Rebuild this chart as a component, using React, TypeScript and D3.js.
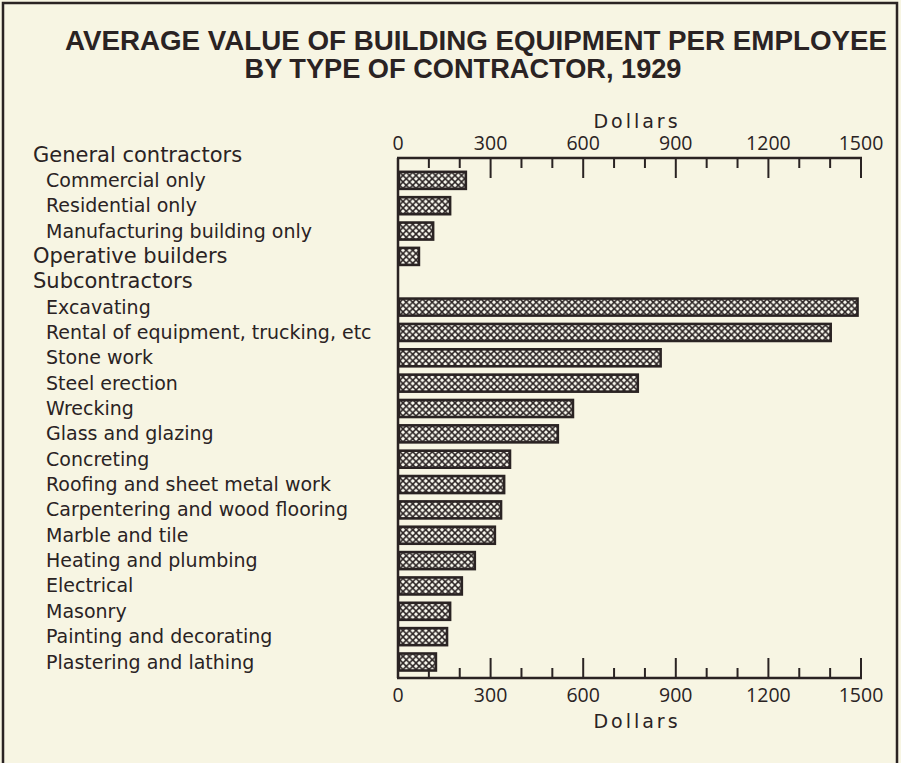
import React from "react";
import * as d3 from "d3";

const categories: string[] = [
  "General contractors",
  "Commercial only",
  "Residential only",
  "Manufacturing building only",
  "Operative builders",
  "Subcontractors",
  "Excavating",
  "Rental of equipment, trucking, etc",
  "Stone work",
  "Steel erection",
  "Wrecking",
  "Glass and glazing",
  "Concreting",
  "Roofing and sheet metal work",
  "Carpentering and wood flooring",
  "Marble and tile",
  "Heating and plumbing",
  "Electrical",
  "Masonry",
  "Painting and decorating",
  "Plastering and lathing",
];

// null = heading row without a bar
const values: (number | null)[] = [
  null, 223, 172, 117, 71, null, 1492, 1405, 854, 780, 570, 521, 366, 347, 337, 317, 252, 210, 172, 162, 126,
];

// 0 = heading, 1 = indented item
const levels: number[] = [0, 1, 1, 1, 0, 0, 1, 1, 1, 1, 1, 1, 1, 1, 1, 1, 1, 1, 1, 1, 1];

const majorTicks: number[] = [0, 300, 600, 900, 1200, 1500];
const titleLines: string[] = ["AVERAGE VALUE OF BUILDING EQUIPMENT PER EMPLOYEE", "BY TYPE OF CONTRACTOR, 1929"];
const axisTitle = "Dollars";

const W = 901;
const H = 763;
const INK = "#2a2323";
const BG = "#f7f5e3";
const FONT = "'DejaVu Sans', 'Open Sans', sans-serif";
const NUMFONT = "'Open Sans', 'DejaVu Sans', sans-serif";
const TITLEFONT = "'Liberation Sans', Arial, sans-serif";

export default function App() {
  const x = d3.scaleLinear().domain([0, 1500]).range([398, 861]);
  const y = d3.scalePoint<string>().domain(categories).range([155, 662]);
  const barH = 19;
  const topY = 158;
  const botY = 678;
  const minorTicks = x.ticks(15);

  return (
    <svg width={W} height={H} style={{ position: "absolute", left: 0, top: 0, background: BG }}>
      <defs>
        <pattern id="xhatch" width={6.5} height={6.5} patternUnits="userSpaceOnUse">
          <rect width={6.5} height={6.5} fill="#fbfaf0" />
          <path d="M-1,1 L1,-1 M0,6.5 L6.5,0 M5.5,7.5 L7.5,5.5" stroke={INK} strokeWidth={1.5} />
          <path d="M-1,5.5 L1,7.5 M0,0 L6.5,6.5 M5.5,-1 L7.5,1" stroke={INK} strokeWidth={1.5} />
        </pattern>
      </defs>
      <rect x={0} y={0} width={W} height={H} fill={BG} />
      <path d={`M3,${H} V3 H897 V${H}`} fill="none" stroke={INK} strokeWidth={2.5} />

      {/* Title */}
      <text x={476} y={50} textAnchor="middle" fontFamily={TITLEFONT} fontWeight="bold" fontSize={27}
        fill={INK} textLength={822} lengthAdjust="spacingAndGlyphs">{titleLines[0]}</text>
      <text x={463} y={78} textAnchor="middle" fontFamily={TITLEFONT} fontWeight="bold" fontSize={27}
        fill={INK} textLength={437} lengthAdjust="spacingAndGlyphs">{titleLines[1]}</text>

      {/* Labels */}
      {categories.map((c, i) => (
        <text key={c} x={levels[i] === 0 ? 33 : 46} y={(y(c) as number) + 6.5}
          fontFamily={FONT} fontSize={levels[i] === 0 ? 21 : 19} fill={INK}>{c}</text>
      ))}

      {/* Bars */}
      {categories.map((c, i) => {
        const v = values[i];
        if (v == null) return null;
        const cy = y(c) as number;
        return (
          <rect key={"b" + c} x={x(0) + 1} y={cy - barH / 2 + 1} width={x(v) - x(0) - 2} height={barH - 2}
            fill="url(#xhatch)" stroke={INK} strokeWidth={2.6} />
        );
      })}

      {/* Axes */}
      <line x1={x(0)} x2={x(0)} y1={topY} y2={botY} stroke={INK} strokeWidth={2.5} />
      <line x1={x(0) - 1} x2={x(1500) + 1} y1={topY} y2={topY} stroke={INK} strokeWidth={2.5} />
      <line x1={x(0) - 1} x2={x(1500) + 1} y1={botY} y2={botY} stroke={INK} strokeWidth={2.5} />
      {minorTicks.map((t) => {
        const major = majorTicks.includes(t);
        const len = major ? 20 : 10;
        return (
          <g key={"t" + t}>
            <line x1={x(t)} x2={x(t)} y1={topY} y2={topY + len} stroke={INK} strokeWidth={2} />
            <line x1={x(t)} x2={x(t)} y1={botY} y2={botY - len} stroke={INK} strokeWidth={2} />
          </g>
        );
      })}
      {majorTicks.map((t) => (
        <g key={"l" + t}>
          <text x={x(t)} y={150} textAnchor="middle" fontFamily={NUMFONT} fontSize={19.5} fill={INK}>{t}</text>
          <text x={x(t)} y={702} textAnchor="middle" fontFamily={NUMFONT} fontSize={19.5} fill={INK}>{t}</text>
        </g>
      ))}
      <text x={637} y={128} textAnchor="middle" fontFamily={FONT} fontSize={19} letterSpacing={3} fill={INK}>{axisTitle}</text>
      <text x={637} y={728} textAnchor="middle" fontFamily={FONT} fontSize={19} letterSpacing={3} fill={INK}>{axisTitle}</text>
    </svg>
  );
}
